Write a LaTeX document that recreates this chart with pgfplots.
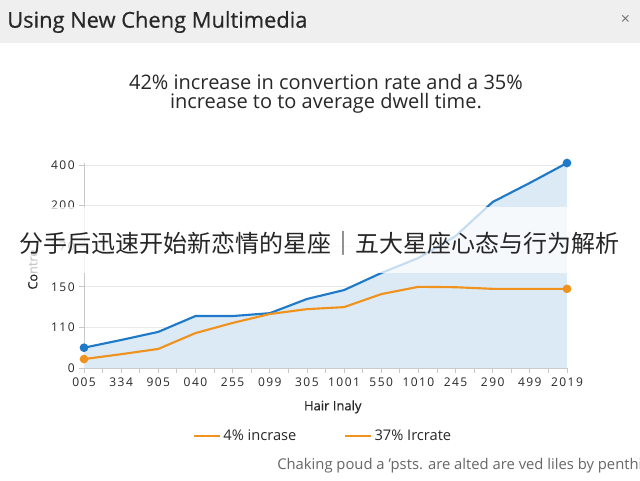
\documentclass[border=0pt]{standalone}
\usepackage{pgfplots}
\pgfplotsset{compat=1.18}
\usepackage{pgfplotstable}
\usepackage{fontspec}
\setmainfont{Open Sans}
\newfontfamily\tickfont[LetterSpace=12]{Open Sans}
\newfontfamily\medfont[FakeBold=0.6]{Open Sans}
\newfontfamily\cjk{Noto Sans CJK SC}

\definecolor{lineblue}{RGB}{30,122,200}
\definecolor{lineorange}{RGB}{240,146,30}
\definecolor{areablue}{RGB}{220,234,245}
\definecolor{gridgray}{RGB}{232,232,232}
\definecolor{axisgray}{RGB}{200,200,200}
\definecolor{textdark}{RGB}{40,40,40}
\definecolor{barback}{RGB}{239,239,239}

% positions 0..13 stand for the category labels; y is on an even tick scale
\pgfplotstableread{
idx blue orange
0  0.50 0.22
1  0.69 0.34
2  0.89 0.47
3  1.28 0.86
4  1.28 1.11
5  1.35 1.33
6  1.70 1.45
7  1.92 1.50
8  2.34 1.82
9  2.71 2.00
10 3.25 1.99
11 4.09 1.95
12 4.56 1.95
13 5.05 1.95
}\seriesdata

\begin{document}
\begin{tikzpicture}
\fill[white] (0,0) rectangle (480pt,360pt);
\path[use as bounding box] (0,0) rectangle (480pt,360pt);

% window bar
\fill[barback] (0,327.75pt) rectangle (480pt,360pt);
\node[anchor=west, font=\medfont\fontsize{16.4}{19}\selectfont, text=textdark, inner sep=0pt]
  at (5.25pt,343.5pt) {Using New Cheng Multimedia};
\node[font=\fontsize{12}{14}\selectfont, text=black!55] at (469pt,345pt) {×};

% subtitle
\node[align=center, font=\fontsize{15}{14.5}\selectfont, text=textdark]
  at (244.5pt,289.8pt) {42\% increase in convertion rate and a 35\%\\increase to to average dwell time.};

\begin{axis}[
  at={(63pt,84pt)}, anchor=south west,
  scale only axis, width=362.25pt, height=153.75pt,
  xmin=0, xmax=13, ymin=0, ymax=5.05,
  axis x line*=bottom, axis y line*=left,
  axis line style={axisgray, line width=0.6pt, -},
  xtick={0,...,13},
  xticklabels={005,334,905,040,255,099,305,1001,550,1010,245,290,499,2019},
  minor x tick num=1,
  ytick={0,...,5},
  yticklabels={0,110,150,170,200,400},
  tick align=outside, major tick length=3.5pt, minor tick length=3.5pt,
  tick style={axisgray, line width=0.6pt},
  ymajorgrids, grid style={gridgray, line width=0.6pt},
  ticklabel style={font=\tickfont\fontsize{9}{10}\selectfont, text=textdark},
  xlabel={Hair Inaly},
  xlabel style={at={(axis description cs:0.515,-0.19)}, anchor=center,
    font=\medfont\fontsize{9.75}{11}\selectfont, text=textdark},
  ylabel={Contre},
  ylabel style={at={(axis description cs:-0.106,0.48)}, anchor=center,
    font=\medfont\fontsize{9.5}{11}\selectfont, text=textdark},
  clip=false,
  legend style={at={(axis description cs:0.496,-0.332)}, anchor=center,
    draw=none, fill=none, legend columns=2,
    font=\fontsize{11}{13}\selectfont, text=textdark,
    /tikz/every even column/.append style={column sep=34pt}},
  legend image code/.code={\draw[#1] (0pt,0pt) -- (19pt,0pt);},
]
\addplot[fill=areablue, draw=none, forget plot] table[x=idx, y=blue] {\seriesdata} \closedcycle;
\addplot[lineblue, line width=1.6pt, mark=*, mark size=2.4pt, mark indices={1,14}, forget plot]
  table[x=idx, y=blue] {\seriesdata};
\addplot[lineorange, line width=1.6pt, mark=*, mark size=2.4pt, mark indices={1,14}, forget plot]
  table[x=idx, y=orange] {\seriesdata};
\addlegendimage{lineorange, line width=1.6pt}
\addlegendentry{4\% incrase}
\addlegendimage{lineorange, line width=1.6pt}
\addlegendentry{37\% Ircrate}
\end{axis}

% overlay banner
\fill[white, opacity=0.75] (0,155.25pt) rectangle (480pt,204.75pt);
\node[font=\cjk\fontsize{18}{20}\selectfont, text=black!85] at (240pt,177.75pt)
  {分手后迅速开始新恋情的星座｜五大星座心态与行为解析};

% footnote (runs off the right edge, as in the source)
\node[anchor=west, font=\fontsize{11.1}{13}\selectfont, text=black!60, inner sep=0pt]
  at (207.75pt,10.5pt) {Chaking poud a 'psts. are alted are ved liles by penthi};
\end{tikzpicture}
\end{document}
